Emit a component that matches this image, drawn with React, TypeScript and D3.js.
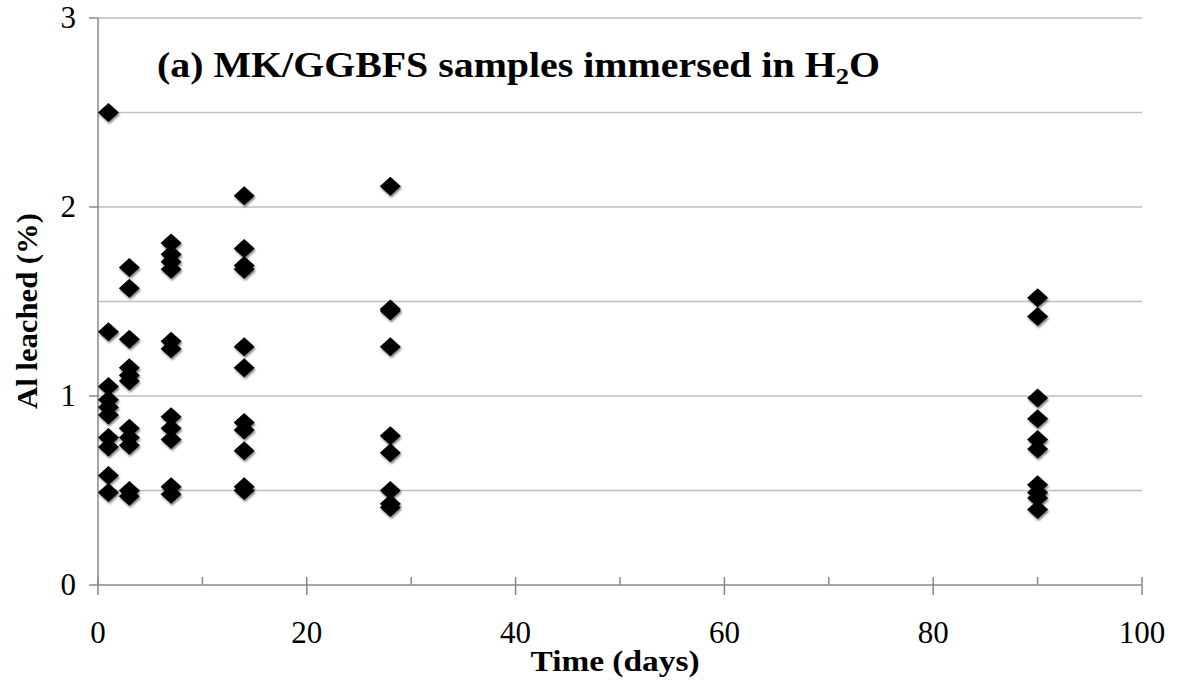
import React from "react";
import * as d3 from "d3";

const days = [1, 3, 7, 14, 28, 90];
const day1 = [2.5, 1.34, 1.05, 0.98, 0.94, 0.9, 0.78, 0.73, 0.58, 0.49];
const day3 = [1.68, 1.57, 1.3, 1.15, 1.11, 1.08, 0.83, 0.78, 0.74, 0.5, 0.47];
const day7 = [1.81, 1.75, 1.71, 1.67, 1.29, 1.25, 0.89, 0.83, 0.77, 0.52, 0.48];
const day14 = [2.06, 1.78, 1.69, 1.67, 1.26, 1.15, 0.86, 0.82, 0.71, 0.52, 0.5];
const day28 = [2.11, 1.46, 1.45, 1.26, 0.79, 0.7, 0.5, 0.43, 0.41];
const day90 = [1.52, 1.42, 0.99, 0.88, 0.77, 0.72, 0.53, 0.49, 0.46, 0.4];
const seriesByDay = [day1, day3, day7, day14, day28, day90];

const xTicks = [0, 20, 40, 60, 80, 100];
const xMinorTicks = [10, 30, 50, 70, 90];
const yTicks = [0, 1, 2, 3];
const yGrid = [0.5, 1, 1.5, 2, 2.5, 3];

const titleText = "(a) MK/GGBFS samples immersed in H";
const xTitle = "Time (days)";
const yTitle = "Al leached (%)";

export default function App() {
  const W = 1177, H = 685;
  const left = 98, right = 1142, top = 18, bottom = 585;
  const x = d3.scaleLinear().domain([0, 100]).range([left, right]);
  const y = d3.scaleLinear().domain([0, 3]).range([bottom, top]);
  const points = days.flatMap((d, i) => seriesByDay[i].map((v) => ({ d, v })));
  const font = "Liberation Serif";
  const dx = 10.5, dy = 9.5;
  return (
    <svg width={W} height={H} style={{ position: "absolute", left: 0, top: 0, background: "#fff" }}>
      <defs>
        <filter id="sh" x="-50%" y="-50%" width="200%" height="200%">
          <feGaussianBlur in="SourceAlpha" stdDeviation="1.2" />
          <feOffset dx="0.5" dy="1.5" result="b" />
          <feComponentTransfer><feFuncA type="linear" slope="0.5" /></feComponentTransfer>
          <feMerge><feMergeNode /><feMergeNode in="SourceGraphic" /></feMerge>
        </filter>
      </defs>
      <rect width={W} height={H} fill="#fff" />
      {yGrid.map((g) => (
        <line key={"g" + g} x1={left} x2={right} y1={y(g)} y2={y(g)} stroke="#bfbfbf" strokeWidth={1.3} />
      ))}
      <line x1={left} x2={left} y1={top} y2={bottom} stroke="#888" strokeWidth={1.5} />
      <line x1={left} x2={right} y1={bottom} y2={bottom} stroke="#888" strokeWidth={1.5} />
      {yTicks.map((t) => (
        <g key={"yt" + t}>
          <line x1={left - 9} x2={left} y1={y(t)} y2={y(t)} stroke="#888" strokeWidth={1.5} />
          <text x={76} y={y(t) + 10} textAnchor="end" fontFamily={font} fontSize={31} fill="#000">{t}</text>
        </g>
      ))}
      {xTicks.map((t) => (
        <g key={"xt" + t}>
          <line x1={x(t)} x2={x(t)} y1={bottom - 8} y2={bottom + 10} stroke="#888" strokeWidth={1.5} />
          <text x={x(t)} y={643} textAnchor="middle" fontFamily={font} fontSize={31} fill="#000">{t}</text>
        </g>
      ))}
      {xMinorTicks.map((t) => (
        <line key={"xm" + t} x1={x(t)} x2={x(t)} y1={bottom - 8} y2={bottom} stroke="#888" strokeWidth={1.5} />
      ))}
      <g filter="url(#sh)">
        {points.map((p, i) => {
          const cx = x(p.d), cy = y(p.v);
          return (
            <path key={"p" + i} d={`M${cx},${cy - dy}L${cx + dx},${cy}L${cx},${cy + dy}L${cx - dx},${cy}Z`} fill="#000" />
          );
        })}
      </g>
      <text x={157} y={77} fontFamily={font} fontSize={36} fontWeight="bold" fill="#000" textLength={723} lengthAdjust="spacingAndGlyphs">
        {titleText}
        <tspan fontSize={24} dy={7}>2</tspan>
        <tspan fontSize={36} dy={-7}>O</tspan>
      </text>
      <text x={615} y={671} textAnchor="middle" fontFamily={font} fontSize={30} fontWeight="bold" fill="#000" textLength={169} lengthAdjust="spacingAndGlyphs">{xTitle}</text>
      <text transform={`translate(37,311) rotate(-90)`} textAnchor="middle" fontFamily={font} fontSize={29} fontWeight="bold" fill="#000" textLength={196} lengthAdjust="spacingAndGlyphs">{yTitle}</text>
    </svg>
  );
}
